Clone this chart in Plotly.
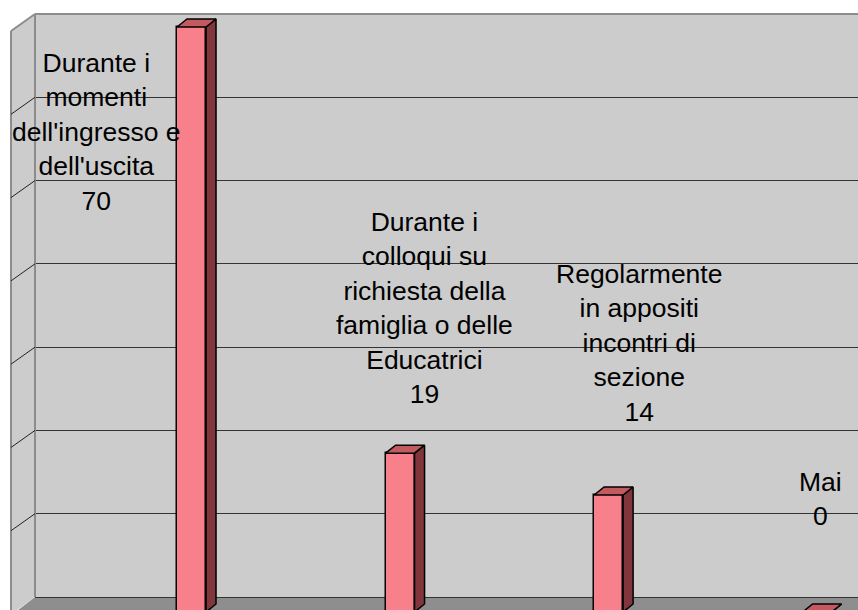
import plotly.graph_objects as go

# ── data ──────────────────────────────────────────────────────────────────────
categories = [
    "Durante i<br>momenti<br>dell'ingresso e<br>dell'uscita",
    "Durante i<br>colloqui su<br>richiesta della<br>famiglia o delle<br>Educatrici",
    "Regolarmente<br>in appositi<br>incontri di<br>sezione",
    "Mai",
]
values = [70, 19, 14, 0]
grid_ticks = [0, 10, 20, 30, 40, 50, 60, 70]

# label centres (pixels in the original picture)
label_px = [96, 424, 639, 820]
label_py = [132, 308, 343, 499]

# ── styling / geometry ────────────────────────────────────────────────────────
W, H = 858, 610
L, T = 35, 14
WALL = "#cccccc"
FLOOR = "#8e8e8e"
EDGE = "#8c8c8c"
FRONT = "#f7808a"
SIDE = "#80363b"
TOP = "#c25a60"
FONT = "Liberation Sans, Arial, sans-serif"

PW, PH = W - L, H - T
X_RANGE = [-0.7506, 3.196]
Y_BAR = [0.239, 71.556]   # front faces of the columns
Y_WALL = [-1.561, 70]     # back wall gridlines

bar_w = 0.139
dx = 10 / 208.5
dy = 8 / (PH / (Y_BAR[1] - Y_BAR[0]))


def px(x):
    # picture pixel -> paper x
    return (x - L) / PW


def py(y):
    # picture pixel -> paper y
    return (H - y) / PH


fig = go.Figure()

# side and top faces of the columns
side_x, side_y, top_x, top_y = [], [], [], []
for i, v in enumerate(values):
    hw = bar_w / 2
    side_x += [i + hw, i + hw, i + hw + dx, i + hw + dx, i + hw, None]
    side_y += [0, v, v + dy, dy, 0, None]
    top_x += [i - hw, i + hw, i + hw + dx, i - hw + dx, i - hw, None]
    top_y += [v, v, v + dy, v + dy, v, None]

fig.add_trace(go.Bar(
    x=list(range(len(values))), y=values, width=bar_w,
    marker=dict(color=FRONT, line=dict(color="black", width=1.5)),
    hoverinfo="skip", showlegend=False,
))
fig.add_trace(go.Scatter(
    x=side_x, y=side_y, mode="lines", fill="toself", fillcolor=SIDE,
    line=dict(color="black", width=1.5), hoverinfo="skip", showlegend=False,
))
fig.add_trace(go.Scatter(
    x=top_x, y=top_y, mode="lines", fill="toself", fillcolor=TOP,
    line=dict(color="black", width=1.5), hoverinfo="skip", showlegend=False,
))
# invisible trace so the wall axis gets drawn
fig.add_trace(go.Scatter(
    x=[0], y=[0], yaxis="y2", mode="markers", marker=dict(opacity=0),
    hoverinfo="skip", showlegend=False,
))

# ── walls and floor ───────────────────────────────────────────────────────────
shapes = []
# floor
shapes.append(dict(
    type="path", xref="paper", yref="paper", layer="below",
    path=f"M {px(35)} {py(597)} L {px(870)} {py(597)} L {px(870)} {py(620)} "
         f"L {px(5)} {py(620)} Z",
    fillcolor=FLOOR, line=dict(width=0),
))
# left side wall
shapes.append(dict(
    type="path", xref="paper", yref="paper", layer="below",
    path=f"M {px(11)} {py(31)} L {px(35)} {py(14)} L {px(35)} {py(597)} "
         f"L {px(17)} {py(610)} L {px(11)} {py(610)} Z",
    fillcolor=WALL, line=dict(width=0),
))
# wall edges
shapes.append(dict(type="line", xref="paper", yref="paper",
                   x0=px(11), y0=py(31), x1=px(35), y1=py(14),
                   line=dict(color=EDGE, width=2)))
shapes.append(dict(type="line", xref="paper", yref="paper",
                   x0=px(11), y0=py(31), x1=px(11), y1=py(612),
                   line=dict(color=EDGE, width=2)))
shapes.append(dict(type="line", xref="paper", yref="paper",
                   x0=px(35), y0=py(14), x1=px(35), y1=py(597),
                   line=dict(color=EDGE, width=2)))
shapes.append(dict(type="line", xref="paper", yref="paper",
                   x0=px(35), y0=py(14), x1=1, y1=py(14),
                   line=dict(color=EDGE, width=2)))
# slanted gridlines on the side wall
wall_scale = PH / (Y_WALL[1] - Y_WALL[0])
for t in grid_ticks[1:-1]:
    yy = 597 - t * wall_scale
    shapes.append(dict(type="line", xref="paper", yref="paper",
                       x0=px(35), y0=py(yy), x1=px(11), y1=py(yy + 17),
                       line=dict(color="#222222", width=1)))

# ── labels ────────────────────────────────────────────────────────────────────
annotations = []
for cat, v, lx, ly in zip(categories, values, label_px, label_py):
    annotations.append(dict(
        text=f"{cat}<br>{v}", xref="paper", yref="paper",
        x=px(lx), y=py(ly), xanchor="center", yanchor="middle",
        showarrow=False, align="center",
        font=dict(family=FONT, size=26.5, color="black"),
    ))

fig.update_layout(
    width=W, height=H,
    margin=dict(l=L, r=0, t=T, b=0, pad=0),
    paper_bgcolor="white",
    plot_bgcolor=WALL,
    xaxis=dict(range=X_RANGE, visible=False),
    yaxis=dict(range=Y_BAR, visible=False),
    yaxis2=dict(range=Y_WALL, overlaying="y", showgrid=True, gridcolor="#333333",
                gridwidth=1, tickvals=grid_ticks, showticklabels=False, ticks="",
                zeroline=False, showline=False),
    shapes=shapes,
    annotations=annotations,
    bargap=0,
)

# drop the default page margin so the figure sits at the window's corner
fig.write_html(
    "out.html",
    config={"displayModeBar": False},
    post_script="document.body.style.margin='0';document.body.style.overflow='hidden';",
)
